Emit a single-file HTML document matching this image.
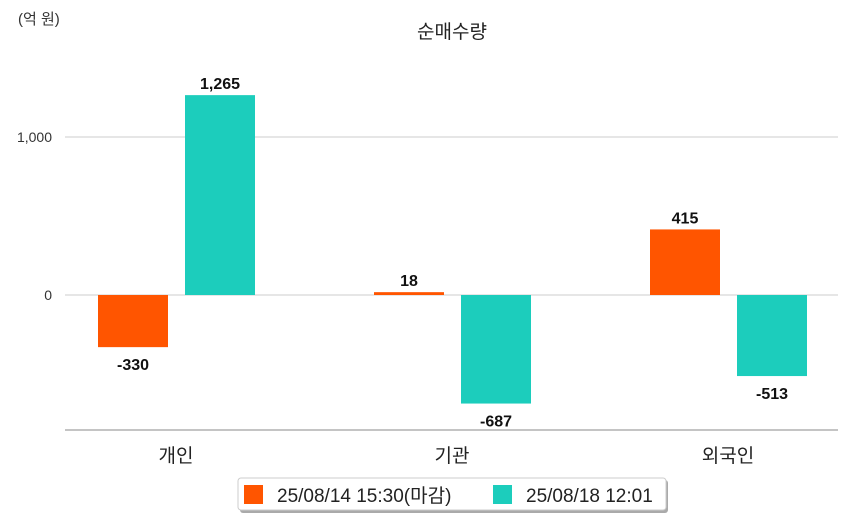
<!DOCTYPE html>
<html><head><meta charset="utf-8"><style>
body{margin:0;background:#fff;width:849px;height:520px;overflow:hidden;font-family:"Liberation Sans","Noto Sans CJK KR",sans-serif}
</style></head><body>
<svg id="chart" width="849" height="520" xmlns="http://www.w3.org/2000/svg" font-family="Liberation Sans, Noto Sans CJK KR, sans-serif">
<text x="18" y="24" font-size="15" fill="#333">(억 원)</text>
<text x="452" y="38" font-size="19" fill="#222" text-anchor="middle">순매수량</text>
<g id="grid"></g><g id="bars"></g><g id="labels"></g>
<line x1="65" y1="430" x2="838" y2="430" stroke="#888" stroke-width="1"/>
<g>
<rect x="240" y="480" width="428" height="33" rx="3" fill="#aaa"/>
<rect x="238" y="478" width="428" height="32" rx="3" fill="#fff" stroke="#ccc"/>
<rect x="244" y="485" width="19" height="19" fill="#ff5500"/>
<text x="277" y="502" font-size="19" fill="#222">25/08/14 15:30(마감)</text>
<rect x="493" y="485" width="19" height="19" fill="#1ccdbc"/>
<text x="526" y="502" font-size="19" fill="#222">25/08/18 12:01</text>
</g>
</svg>
<script>
const categories=["개인","기관","외국인"];
const series0814=[-330,18,415];
const series0818=[1265,-687,-513];
const yTicks=[0,1000];
const yTickLabels=["0","1,000"];
const NS="http://www.w3.org/2000/svg";
const y=v=>295-v*0.158;
const band=276, x0=38;
const cx=i=>x0+band*(i+0.5);
const fmt=v=>(v<0?"-":"")+Math.abs(v).toLocaleString("en-US");
function mk(tag,attrs,parent){const e=document.createElementNS(NS,tag);for(const k in attrs)e.setAttribute(k,attrs[k]);document.getElementById(parent).appendChild(e);return e;}
yTicks.forEach((t,i)=>{
  const l=mk("line",{x1:65,x2:838,y1:y(t),y2:y(t),stroke:"#ccc"},"grid");
  
  
  const tx=mk("text",{x:52,y:y(t)+5,"font-size":14,fill:"#333","text-anchor":"end"},"grid");
  tx.textContent=yTickLabels[i];
  
  
});
categories.forEach((c,i)=>{
  const t=mk("text",{x:cx(i),y:462,"font-size":19,fill:"#222","text-anchor":"middle"},"labels");
  t.textContent=c;
  
  
  [[series0814[i],"#ff5500",-78],[series0818[i],"#1ccdbc",9]].forEach(([v,col,off])=>{
    const bx=cx(i)+off, top=Math.min(y(v),y(0)), h=Math.abs(y(v)-y(0));
    const r=mk("rect",{x:bx,y:top,width:70,height:Math.max(h,1),fill:col},"bars");
    
    
    const ly=v>=0?y(v)-6:y(v)+23;
    const lt=mk("text",{x:bx+35,y:ly,"font-size":16,fill:"#111","text-anchor":"middle","font-weight":"bold"},"labels");
    lt.textContent=fmt(v);
    
    
  });
});
</script>
</body></html>
